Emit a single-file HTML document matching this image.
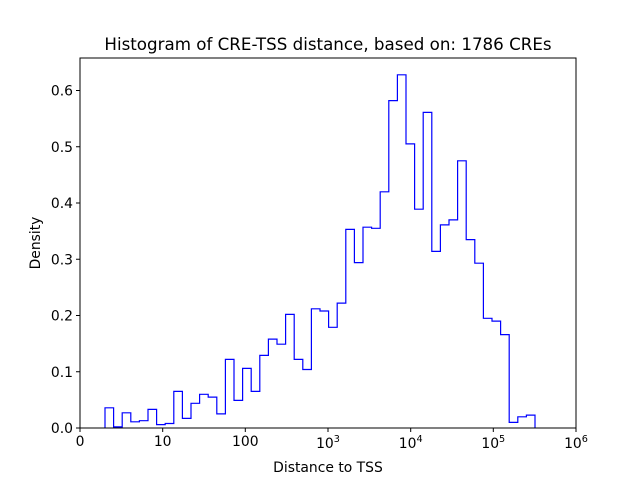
<!DOCTYPE html>
<html><head><meta charset="utf-8"><style>
body{margin:0;background:#fff}
svg text{font-family:"DejaVu Sans","Liberation Sans",sans-serif;fill:#000}
</style></head><body>
<svg id="s" width="640" height="480" viewBox="0 0 640 480" xmlns="http://www.w3.org/2000/svg">
<rect width="640" height="480" fill="#fff"/>
<path id="h" fill="none" stroke="#0000ff" stroke-width="1.2"/>
<rect x="80" y="58" width="496" height="370" fill="none" stroke="#000" stroke-width="1"/>
<g stroke="#000" stroke-width="1">
<line x1="80" y1="428" x2="80" y2="432"/><line x1="162.7" y1="428" x2="162.7" y2="432"/>
<line x1="245.3" y1="428" x2="245.3" y2="432"/><line x1="328" y1="428" x2="328" y2="432"/>
<line x1="410.7" y1="428" x2="410.7" y2="432"/><line x1="493.3" y1="428" x2="493.3" y2="432"/>
<line x1="576" y1="428" x2="576" y2="432"/>
<line x1="76" y1="428" x2="80" y2="428"/><line x1="76" y1="371.75" x2="80" y2="371.75"/>
<line x1="76" y1="315.5" x2="80" y2="315.5"/><line x1="76" y1="259.25" x2="80" y2="259.25"/>
<line x1="76" y1="203" x2="80" y2="203"/><line x1="76" y1="146.75" x2="80" y2="146.75"/>
<line x1="76" y1="90.5" x2="80" y2="90.5"/>
</g>
<g font-size="13.9" text-anchor="middle">
<text x="80" y="446">0</text><text x="162.7" y="446">10</text><text x="245.3" y="446">100</text>
<text x="328" y="448">10<tspan font-size="9.7" dy="-6">3</tspan></text>
<text x="410.7" y="448">10<tspan font-size="9.7" dy="-6">4</tspan></text>
<text x="493.3" y="448">10<tspan font-size="9.7" dy="-6">5</tspan></text>
<text x="576" y="448">10<tspan font-size="9.7" dy="-6">6</tspan></text>
</g>
<g font-size="13.9" text-anchor="end">
<text x="73" y="433">0.0</text><text x="73" y="376.8">0.1</text><text x="73" y="320.5">0.2</text>
<text x="73" y="264.3">0.3</text><text x="73" y="208">0.4</text><text x="73" y="151.8">0.5</text>
<text x="73" y="95.5">0.6</text>
</g>
<text x="328" y="472" font-size="13.9" text-anchor="middle">Distance to TSS</text>
<text x="40" y="243" font-size="13.9" text-anchor="middle" transform="rotate(-90 40 243)">Density</text>
<text x="328" y="50" font-size="16.7" text-anchor="middle">Histogram of CRE-TSS distance, based on: 1786 CREs</text>
</svg>
<script>
var v=[0.036,0.002,0.027,0.011,0.013,0.033,0.006,0.008,0.065,0.017,0.044,0.060,0.055,0.025,0.122,0.049,0.106,0.065,0.129,0.158,0.149,0.202,0.122,0.104,0.212,0.208,0.179,0.222,0.353,0.294,0.357,0.355,0.420,0.582,0.628,0.505,0.389,0.561,0.314,0.361,0.370,0.475,0.335,0.293,0.195,0.190,0.166,0.010,0.020,0.023];
var x0=105,w=8.6,d="M"+x0+" 428";
for(var i=0;i<v.length;i++){var y=(428-v[i]*562.5).toFixed(1);d+=" L"+(x0+i*w).toFixed(1)+" "+y+" L"+(x0+(i+1)*w).toFixed(1)+" "+y;}
d+=" L"+(x0+v.length*w).toFixed(1)+" 428";
document.getElementById("h").setAttribute("d",d);
</script>
</body></html>
